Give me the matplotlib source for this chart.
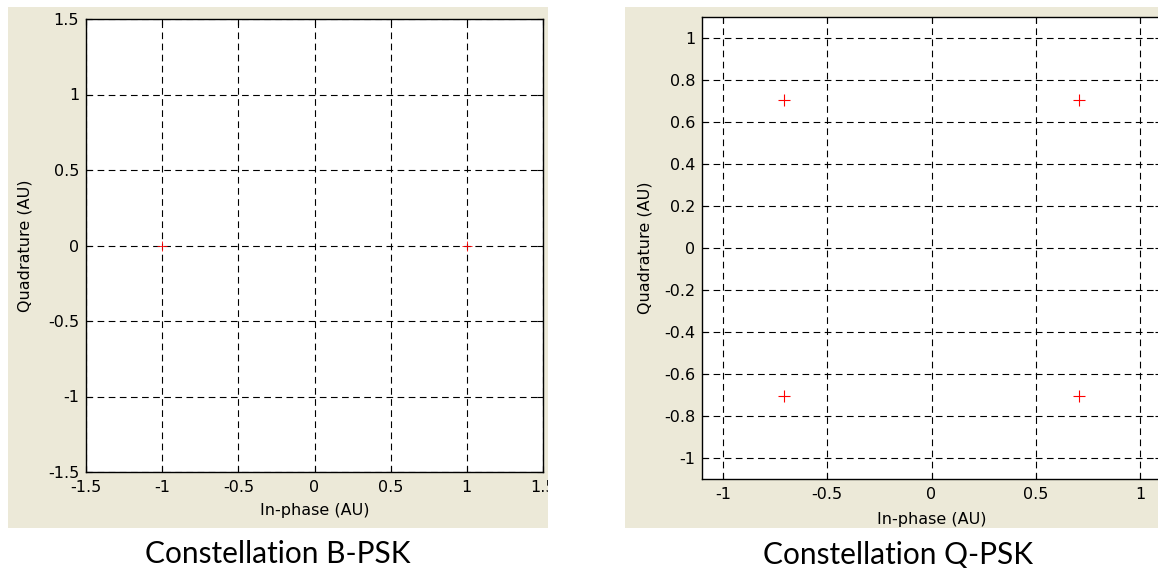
import matplotlib
matplotlib.use("Agg")
import matplotlib.pyplot as plt
from matplotlib.patches import Rectangle

# constellation points
bpsk_i = [-1.0, 1.0]
bpsk_q = [0.0, 0.0]
qpsk_i = [-0.707, 0.707, -0.707, 0.707]
qpsk_q = [0.707, 0.707, -0.707, -0.707]

bpsk_ticks = [-1.5, -1, -0.5, 0, 0.5, 1, 1.5]
bpsk_labels = ['-1.5', '-1', '-0.5', '0', '0.5', '1', '1.5']
qpsk_xticks = [-1, -0.5, 0, 0.5, 1]
qpsk_xlabels = ['-1', '-0.5', '0', '0.5', '1']
qpsk_yticks = [-1, -0.8, -0.6, -0.4, -0.2, 0, 0.2, 0.4, 0.6, 0.8, 1]
qpsk_ylabels = ['-1', '-0.8', '-0.6', '-0.4', '-0.2', '0', '0.2', '0.4', '0.6', '0.8', '1']

captions = ['Constellation B-PSK', 'Constellation Q-PSK']

plt.rcParams['font.family'] = ['DejaVu Sans']

W, H = 1158, 568
fig = plt.figure(figsize=(W / 100, H / 100), dpi=100, facecolor='white')

beige = '#ECE9D8'


def px(x0, y0, x1, y1):
    # pixel box (top-left origin) -> figure fraction rect
    return [x0 / W, 1 - y1 / H, (x1 - x0) / W, (y1 - y0) / H]


def add_rect(box, color, z):
    r = px(*box)
    fig.patches.append(Rectangle((r[0], r[1]), r[2], r[3], transform=fig.transFigure,
                                 facecolor=color, edgecolor='none', zorder=z))


# grey-beige figure panels behind each plot
add_rect((8, 7, 548, 528), beige, -5)
add_rect((625, 7, 1200, 528), beige, -5)

grid_style = dict(color='black', linestyle=(0, (6, 4)), linewidth=0.8)


def style_axes(ax, xlab_y, ylab_x):
    ax.set_facecolor('white')
    ax.grid(True, **grid_style)
    ax.set_axisbelow(True)
    ax.tick_params(direction='in', top=True, right=True, length=4, width=0.8,
                   labelsize=11.5)
    ax.tick_params(axis='x', pad=6)
    ax.tick_params(axis='y', pad=5)
    for s in ax.spines.values():
        s.set_linewidth(1.0)
        s.set_color('black')
    ax.set_xlabel('In-phase (AU)', fontsize=11.5, va='center')
    ax.set_ylabel('Quadrature (AU)', fontsize=11.5, va='center')
    ax.xaxis.set_label_coords(0.5, xlab_y)
    ax.yaxis.set_label_coords(ylab_x, 0.5)


# B-PSK
ax1 = fig.add_axes(px(86, 19, 543, 472))
ax1.plot(bpsk_i, bpsk_q, '+', color='red', markersize=7, markeredgewidth=0.6)
ax1.set_xlim(-1.5, 1.5)
ax1.set_ylim(-1.5, 1.5)
ax1.set_xticks(bpsk_ticks, bpsk_labels)
ax1.set_yticks(bpsk_ticks, bpsk_labels)
style_axes(ax1, -0.084, -0.134)

# Q-PSK
ax2 = fig.add_axes(px(702, 17, 1161, 479))
ax2.plot(qpsk_i, qpsk_q, '+', color='red', markersize=9, markeredgewidth=0.8)
ax2.set_xlim(-1.1, 1.1)
ax2.set_ylim(-1.1, 1.1)
ax2.set_xticks(qpsk_xticks, qpsk_xlabels)
ax2.set_yticks(qpsk_yticks, qpsk_ylabels)
style_axes(ax2, -0.087, -0.124)

# white gap between panels (clips the last tick label like the original)
add_rect((548, 0, 625, 568), 'white', 10)

fig.text(278 / W, 1 - 554 / H, captions[0], ha='center', va='center',
         fontsize=21.5, family=['Lato', 'DejaVu Sans'], zorder=11)
fig.text(898 / W, 1 - 554 / H, captions[1], ha='center', va='center',
         fontsize=21.5, family=['Lato', 'DejaVu Sans'], zorder=11)

fig.savefig('out.png', dpi=100, facecolor='white')
